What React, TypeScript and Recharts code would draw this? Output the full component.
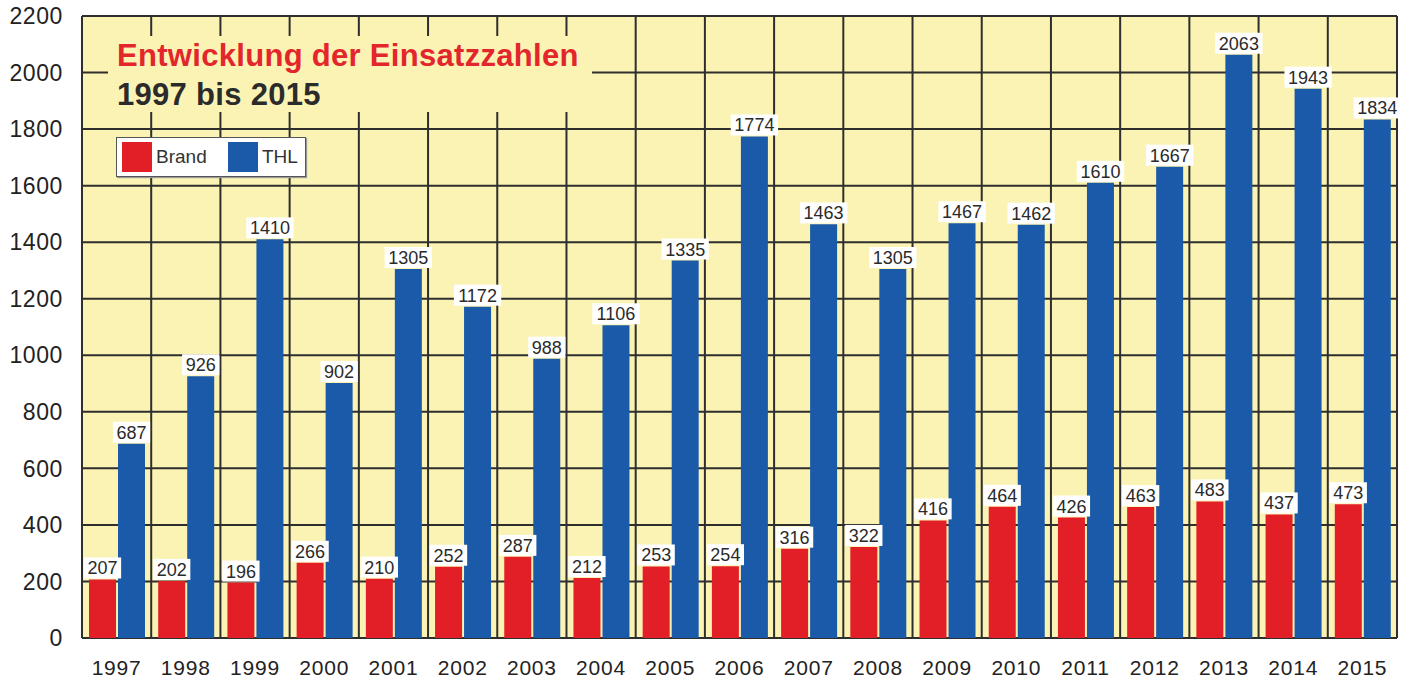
import { BarChart, Bar, XAxis, YAxis, CartesianGrid, Legend, LabelList } from "recharts";

const years = ["1997", "1998", "1999", "2000", "2001", "2002", "2003", "2004", "2005", "2006", "2007", "2008", "2009", "2010", "2011", "2012", "2013", "2014", "2015"];
const brand = [207, 202, 196, 266, 210, 252, 287, 212, 253, 254, 316, 322, 416, 464, 426, 463, 483, 437, 473];
const thl = [687, 926, 1410, 902, 1305, 1172, 988, 1106, 1335, 1774, 1463, 1305, 1467, 1462, 1610, 1667, 2063, 1943, 1834];
const yTicks = [0, 200, 400, 600, 800, 1000, 1200, 1400, 1600, 1800, 2000, 2200];

const RED = "#e21f26";
const BLUE = "#1b5aa9";
const GRID = "#2e2e2e";
const FONT = "'Liberation Sans', Arial, sans-serif";

const data = years.map((year, i) => ({ year, brand: brand[i], thl: thl[i] }));

// white box with the number, sitting on top of each bar
const ValueLabel = (props: any) => {
  const { x, y, width, value } = props;
  const txt = String(value);
  const fs = 18;
  const w = txt.length * fs * 0.56 + 7;
  const cx = x + width / 2;
  return (
    <g>
      <rect x={cx - w / 2} y={y - 22} width={w} height={21} fill="#ffffff" />
      <text x={cx} y={y - 5} textAnchor="middle" fontSize={fs} fontFamily={FONT} fill="#2a2a2a">
        {txt}
      </text>
    </g>
  );
};

const LegendBox = () => (
  <div
    style={{
      width: 188,
      height: 38,
      background: "#fff",
      border: "1px solid #555",
      boxShadow: "1px 1px 1px #999",
      display: "flex",
      alignItems: "center",
      fontFamily: FONT,
      fontSize: 19,
      color: "#333",
    }}
  >
    <div style={{ width: 30, height: 30, background: RED, marginLeft: 5, marginRight: 4 }} />
    <span style={{ width: 72 }}>Brand</span>
    <div style={{ width: 30, height: 30, background: BLUE, marginRight: 4 }} />
    <span>THL</span>
  </div>
);

export default function App() {
  return (
    <div style={{ position: "absolute", left: 0, top: 0, width: 1409, height: 685, background: "#fff" }}>
      <BarChart
        width={1409}
        height={685}
        data={data}
        margin={{ top: 16, right: 12, left: 0, bottom: 0 }}
        barGap={2}
        barSize={27}
      >
        <CartesianGrid
          fill="#fbf3b4"
          stroke={GRID}
          strokeWidth={2}
          verticalCoordinatesGenerator={({ offset }: any) =>
            years.map((_, i) => offset.left + (i * offset.width) / years.length).concat(offset.left + offset.width)
          }
        />
        <XAxis
          dataKey="year"
          axisLine={false}
          tickLine={false}
          tickSize={0}
          tickMargin={22}
          height={47}
          tick={{ fill: "#222", fontSize: 21, fontFamily: FONT, letterSpacing: 0.8 }}
        />
        <YAxis
          domain={[0, 2200]}
          ticks={yTicks}
          interval={0}
          width={82}
          axisLine={{ stroke: GRID, strokeWidth: 2 }}
          tickLine={false}
          tickSize={0}
          tickMargin={19}
          tick={{ fill: "#222", fontSize: 23, fontFamily: FONT, letterSpacing: 0.6 }}
        />
        <Legend
          layout="vertical"
          align="center"
          verticalAlign="middle"
          content={<LegendBox />}
          wrapperStyle={{ position: "absolute", left: 116, top: 137, width: 190, height: 40 }}
        />
        <Bar dataKey="brand" name="Brand" fill={RED} isAnimationActive={false}>
          <LabelList dataKey="brand" content={<ValueLabel />} />
        </Bar>
        <Bar dataKey="thl" name="THL" fill={BLUE} isAnimationActive={false}>
          <LabelList dataKey="thl" content={<ValueLabel />} />
        </Bar>
      </BarChart>
      <div
        style={{
          position: "absolute",
          left: 108,
          top: 36,
          width: 484,
          height: 76,
          background: "#fbf3b4",
          fontFamily: FONT,
          fontWeight: "bold",
          fontSize: 31,
          letterSpacing: 0.3,
          lineHeight: "39px",
          paddingLeft: 9,
          boxSizing: "border-box",
          paddingTop: 0,
        }}
      >
        <div style={{ color: "#e3262b" }}>Entwicklung der Einsatzzahlen</div>
        <div style={{ color: "#2b2b2b" }}>1997 bis 2015</div>
      </div>
    </div>
  );
}
